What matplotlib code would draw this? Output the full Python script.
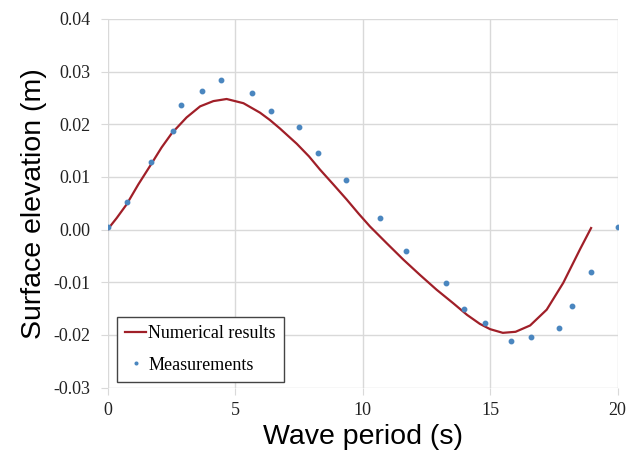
import matplotlib.pyplot as plt

# numerical curve
num_x = [0, 0.36, 0.75, 1.21, 1.67, 2.12, 2.52, 3.1, 3.63, 4.15, 4.67, 5.33,
         5.98, 6.37, 6.76, 7.42, 7.9, 8.33, 8.85, 9.38, 9.85, 10.29, 10.95,
         11.6, 12.25, 12.9, 13.56, 14.1, 14.6, 15.0, 15.5, 16.0, 16.57, 17.22,
         17.87, 18.53, 18.96]
num_y = [0.0, 0.0022, 0.0048, 0.0086, 0.0121, 0.0156, 0.0183, 0.0213, 0.0234,
         0.0244, 0.0248, 0.0240, 0.0222, 0.0208, 0.0192, 0.0163, 0.0139,
         0.0114, 0.0086, 0.0057, 0.0030, 0.0006, -0.0026, -0.0057, -0.0086,
         -0.0114, -0.0140, -0.0162, -0.0179, -0.0189, -0.0196, -0.0194,
         -0.0182, -0.0152, -0.0101, -0.0037, 0.0003]

# measurements
meas_x = [0.0, 0.75, 1.7, 2.55, 2.9, 3.7, 4.45, 5.65, 6.4, 7.5, 8.27, 9.34,
          10.7, 11.7, 13.28, 13.99, 14.8, 15.82, 16.62, 17.7, 18.23, 18.94, 20.0]
meas_y = [0.0005, 0.0052, 0.0128, 0.0187, 0.0236, 0.0263, 0.0284, 0.0260,
          0.0225, 0.0195, 0.0145, 0.0094, 0.0022, -0.0041, -0.0102, -0.0151,
          -0.0178, -0.0211, -0.0203, -0.0187, -0.0145, -0.0081, 0.0005]

xticks = [0, 5, 10, 15, 20]
yticks = [-0.03, -0.02, -0.01, 0.0, 0.01, 0.02, 0.03, 0.04]

fig = plt.figure(figsize=(6.4, 4.62), dpi=100)
ax = fig.add_axes([0.168, 0.161, 0.797, 0.798])

ax.plot(num_x, num_y, color='#a01f28', linewidth=1.6, label='Numerical results',
        solid_joinstyle='round', zorder=3)
ax.plot(meas_x, meas_y, linestyle='none', marker='o', markersize=3.2,
        color='#4a86bf', label='Measurements', zorder=4)

ax.set_xlim(0, 20)
ax.set_ylim(-0.03, 0.04)
ax.set_xticks(xticks)
ax.set_yticks(yticks)
ax.set_xticklabels([str(t) for t in xticks], family='Liberation Serif', fontsize=13)
ax.set_yticklabels(['%.2f' % t for t in yticks], family='Liberation Serif', fontsize=13)

ax.grid(True, color='#d9d9d9', linewidth=1)
ax.set_axisbelow(True)
for s in ax.spines.values():
    s.set_visible(False)
ax.tick_params(axis='y', length=5, color='#d9d9d9', pad=7, labelcolor='#222222')
ax.tick_params(axis='x', length=5, color='#d9d9d9', pad=5, labelcolor='#222222')

ax.set_xlabel('Wave period (s)', family='Liberation Sans', fontsize=20.5, labelpad=4)
ax.set_ylabel('Surface elevation (m)', family='Liberation Sans', fontsize=20.5, labelpad=5)

leg = ax.legend(loc='lower left', bbox_to_anchor=(0.018, 0.016), borderaxespad=0,
                fancybox=False, prop={'family': 'Liberation Serif', 'size': 13},
                handlelength=1.2, handletextpad=0.1, borderpad=0.45,
                labelspacing=0.8, framealpha=1, markerscale=0.6)
leg.get_frame().set_edgecolor('#444444')
leg.get_frame().set_linewidth(1.0)

fig.savefig('out.png', dpi=100)
